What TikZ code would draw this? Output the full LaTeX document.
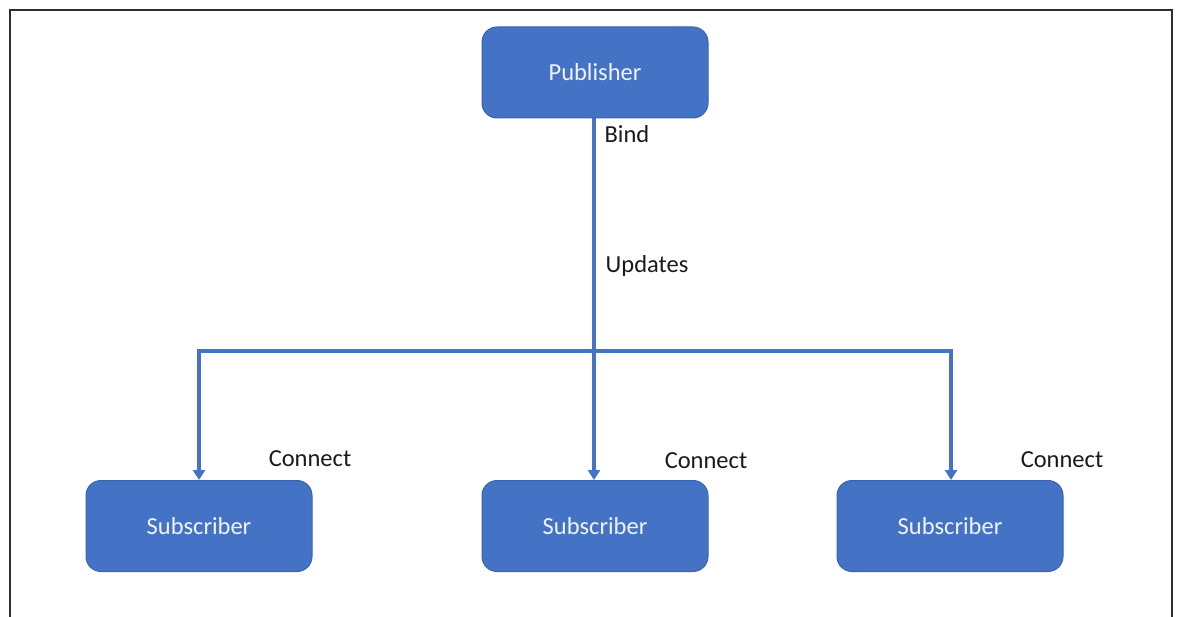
\documentclass[tikz,border=0pt]{standalone}
\usepackage{fontspec}
\setmainfont{Carlito}
\usetikzlibrary{arrows.meta}
\definecolor{boxblue}{HTML}{4472C4}
\definecolor{boxedge}{HTML}{3A64B0}
\definecolor{frameline}{HTML}{2E2E2E}
\definecolor{labeltext}{HTML}{1A1A1A}
\tikzset{
  rolebox/.style={draw=boxedge, line width=1pt, fill=boxblue, rounded corners=15pt,
    minimum width=226pt, minimum height=91pt, inner sep=0pt,
    text=white!92!boxblue, font=\fontsize{24.5}{28}\selectfont},
  flow/.style={draw=boxblue, line width=4pt},
  flowarrow/.style={flow, -{Triangle[width=12pt,length=10pt]}},
  edgelabel/.style={text=labeltext, font=\fontsize{24.5}{28}\selectfont, inner sep=0pt}
}
\begin{document}
\begin{tikzpicture}[x=1pt,y=-1pt]
  \useasboundingbox (0,0) rectangle (1178,617);
  % open frame around the diagram
  \draw[frameline, line width=2pt] (9.5,640) -- (9.5,10.5) -- (1172,10.5) -- (1172,640);

  \node[rolebox] (pub) at (595,72.5) {Publisher};
  \node[rolebox] (subL) at (199,526) {Subscriber};
  \node[rolebox] (subM) at (595,526) {Subscriber};
  \node[rolebox] (subR) at (950,526) {Subscriber};

  \coordinate (busL) at (199,351.5);
  \coordinate (busR) at (951,351.5);

  % distribution bus
  \draw[flow, line cap=rect] (busL) -- (busR);
  \draw[flowarrow] (pub.south -| 594,0) -- (subM.north -| 594,0);
  \draw[flowarrow] (busL) -- (subL.north);
  \draw[flowarrow] (busR) -- (subR.north -| busR);

  \node[edgelabel] (bind) at (627,134) {Bind};
  \node[edgelabel] (upd) at (647,266) {Updates};
  \node[edgelabel] (cL) at (310,459) {Connect};
  \node[edgelabel] (cM) at (706,461) {Connect};
  \node[edgelabel] (cR) at (1062,460) {Connect};
\end{tikzpicture}
\end{document}
